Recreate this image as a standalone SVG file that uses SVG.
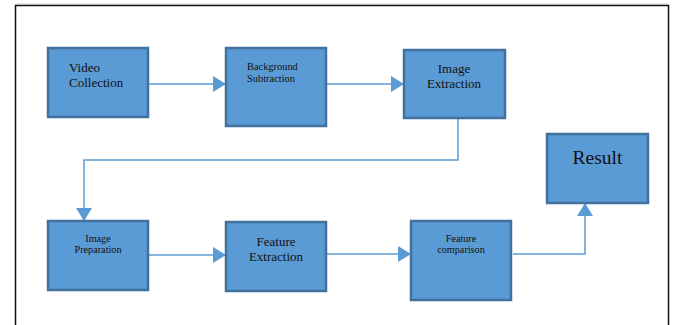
<svg xmlns="http://www.w3.org/2000/svg" width="675" height="325" viewBox="0 0 675 325">
<defs>
<style>
.box{fill:#5b9bd5;stroke:#41719c;stroke-width:2.5}
.t{font-family:"Liberation Serif",serif;fill:#111}
.l{fill:none;stroke:#5b9bd5;stroke-width:1.5}
</style>
<marker id="ah" markerUnits="userSpaceOnUse" markerWidth="14" markerHeight="16" refX="13" refY="8" orient="auto">
<path d="M0,0 L13,8 L0,16 Z" fill="#5b9bd5"/>
</marker>
</defs>
<rect width="675" height="325" fill="#fff"/>
<path d="M15.5,330 V5.5 H668.5 V330" fill="none" stroke="#111" stroke-width="1.5"/>
<line x1="15" y1="4.2" x2="669" y2="4.2" stroke="#aaa" stroke-width="0.8"/>
<g id="connectors">
<line class="l" x1="148" y1="84" x2="226" y2="84" marker-end="url(#ah)"/>
<line class="l" x1="326" y1="84" x2="404" y2="84" marker-end="url(#ah)"/>
<polyline class="l" points="458,118 458,160 84,160 84,221" marker-end="url(#ah)"/>
<line class="l" x1="148" y1="255" x2="226" y2="255" marker-end="url(#ah)"/>
<line class="l" x1="326" y1="254" x2="411" y2="254" marker-end="url(#ah)"/>
<polyline class="l" points="513,254 585,254 585,203" marker-end="url(#ah)"/>
</g>
<g id="video-collection">
<rect class="box" x="48" y="48" width="100" height="69"/>
<text class="t" font-size="13"><tspan x="69" y="72">Video</tspan><tspan x="69" y="87">Collection</tspan></text>
</g>
<g id="background-subtraction">
<rect class="box" x="226" y="48" width="100" height="78"/>
<text class="t" font-size="10.4"><tspan x="247" y="70">Background</tspan><tspan x="247" y="82">Subtraction</tspan></text>
</g>
<g id="image-extraction">
<rect class="box" x="404" y="50" width="101" height="68"/>
<text class="t" font-size="13" text-anchor="middle"><tspan x="454" y="73">Image</tspan><tspan x="454" y="88">Extraction</tspan></text>
</g>
<g id="result">
<rect class="box" x="547" y="134" width="101" height="69"/>
<text class="t" font-size="19.5" text-anchor="middle" x="597.5" y="164">Result</text>
</g>
<g id="image-preparation">
<rect class="box" x="48" y="221" width="100" height="69"/>
<text class="t" font-size="10.2" text-anchor="middle"><tspan x="98" y="242">Image</tspan><tspan x="98" y="253">Preparation</tspan></text>
</g>
<g id="feature-extraction">
<rect class="box" x="226" y="222" width="100" height="69"/>
<text class="t" font-size="13" text-anchor="middle"><tspan x="276" y="246">Feature</tspan><tspan x="276" y="261">Extraction</tspan></text>
</g>
<g id="feature-comparison">
<rect class="box" x="411" y="221" width="100" height="79"/>
<text class="t" font-size="10.2" text-anchor="middle"><tspan x="461" y="242">Feature</tspan><tspan x="461" y="253">comparison</tspan></text>
</g>
</svg>
